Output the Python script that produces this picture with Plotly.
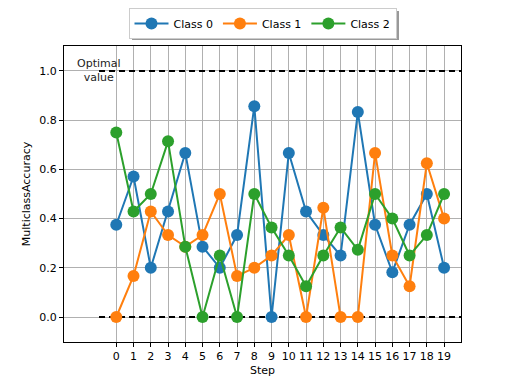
import plotly.graph_objects as go

steps = list(range(20))
class0 = [0.375, 0.571, 0.2, 0.429, 0.667, 0.286, 0.2, 0.333, 0.857, 0.0,
          0.667, 0.429, 0.333, 0.25, 0.833, 0.375, 0.182, 0.375, 0.5, 0.2]
class1 = [0.0, 0.167, 0.429, 0.333, 0.286, 0.333, 0.5, 0.167, 0.2, 0.25,
          0.333, 0.0, 0.444, 0.0, 0.0, 0.667, 0.25, 0.125, 0.625, 0.4]
class2 = [0.75, 0.429, 0.5, 0.714, 0.286, 0.0, 0.25, 0.0, 0.5, 0.364,
          0.25, 0.125, 0.25, 0.364, 0.273, 0.5, 0.4, 0.25, 0.333, 0.5]
series_names = ["Class 0", "Class 1", "Class 2"]
colors = ["#1f77b4", "#ff7f0e", "#2ca02c"]
ref_x = [-1, 20]
optimal = 1.0
worst = 0.0

fig = go.Figure()
for yv in (optimal, worst):
    fig.add_trace(go.Scatter(x=ref_x, y=[yv, yv], mode="lines",
                             line=dict(color="black", width=2, dash="6px,4px"),
                             showlegend=False, hoverinfo="skip"))
for name, vals, c in zip(series_names, [class0, class1, class2], colors):
    fig.add_trace(go.Scatter(x=steps, y=vals, mode="lines+markers", name=name,
                             line=dict(color=c, width=2),
                             marker=dict(color=c, size=12)))

fig.add_annotation(x=-1, y=optimal, xref="x", yref="y", text="Optimal<br>value",
                   showarrow=False, xanchor="center", yanchor="middle",
                   font=dict(size=11, color="#222222"))

# legend shadow
fig.add_shape(type="rect", xref="paper", yref="paper",
              x0=(132 - 64) / 397, x1=(399 - 64) / 397,
              y0=(342 - 40) / 296, y1=(342 - 11) / 296,
              fillcolor="#999999", line=dict(width=0), layer="below")

axis_common = dict(showline=True, linecolor="black", linewidth=1, mirror=True,
                   ticks="outside", ticklen=4, tickcolor="black",
                   showgrid=True, gridcolor="#b0b0b0", gridwidth=1, zeroline=False,
                   tickfont=dict(size=11, color="black"))

fig.update_layout(
    width=512, height=384,
    margin=dict(l=64, r=51, t=46, b=42, autoexpand=False),
    paper_bgcolor="white", plot_bgcolor="white",
    font=dict(family="DejaVu Sans", size=11, color="black"),
    showlegend=True,
    legend=dict(orientation="h", x=0.5, xanchor="center",
                y=(342 - 8) / 296, yanchor="top",
                bgcolor="white", bordercolor="#cccccc", borderwidth=1,
                font=dict(size=11), itemwidth=34, tracegroupgap=0),
    xaxis=dict(range=[-3.03, 19.98], tickmode="array", tickvals=steps,
               title=dict(text="Step", standoff=4, font=dict(size=11)), **axis_common),
    yaxis=dict(range=[-0.1016, 1.1016], tickmode="array",
               tickvals=[0, 0.2, 0.4, 0.6, 0.8, 1.0],
               ticktext=["0.0", "0.2", "0.4", "0.6", "0.8", "1.0"],
               title=dict(text="MulticlassAccuracy", standoff=6, font=dict(size=11)),
               **axis_common),
)

fig.write_html("out.html", config={"displayModeBar": False},
               post_script="document.body.style.margin='0';")
